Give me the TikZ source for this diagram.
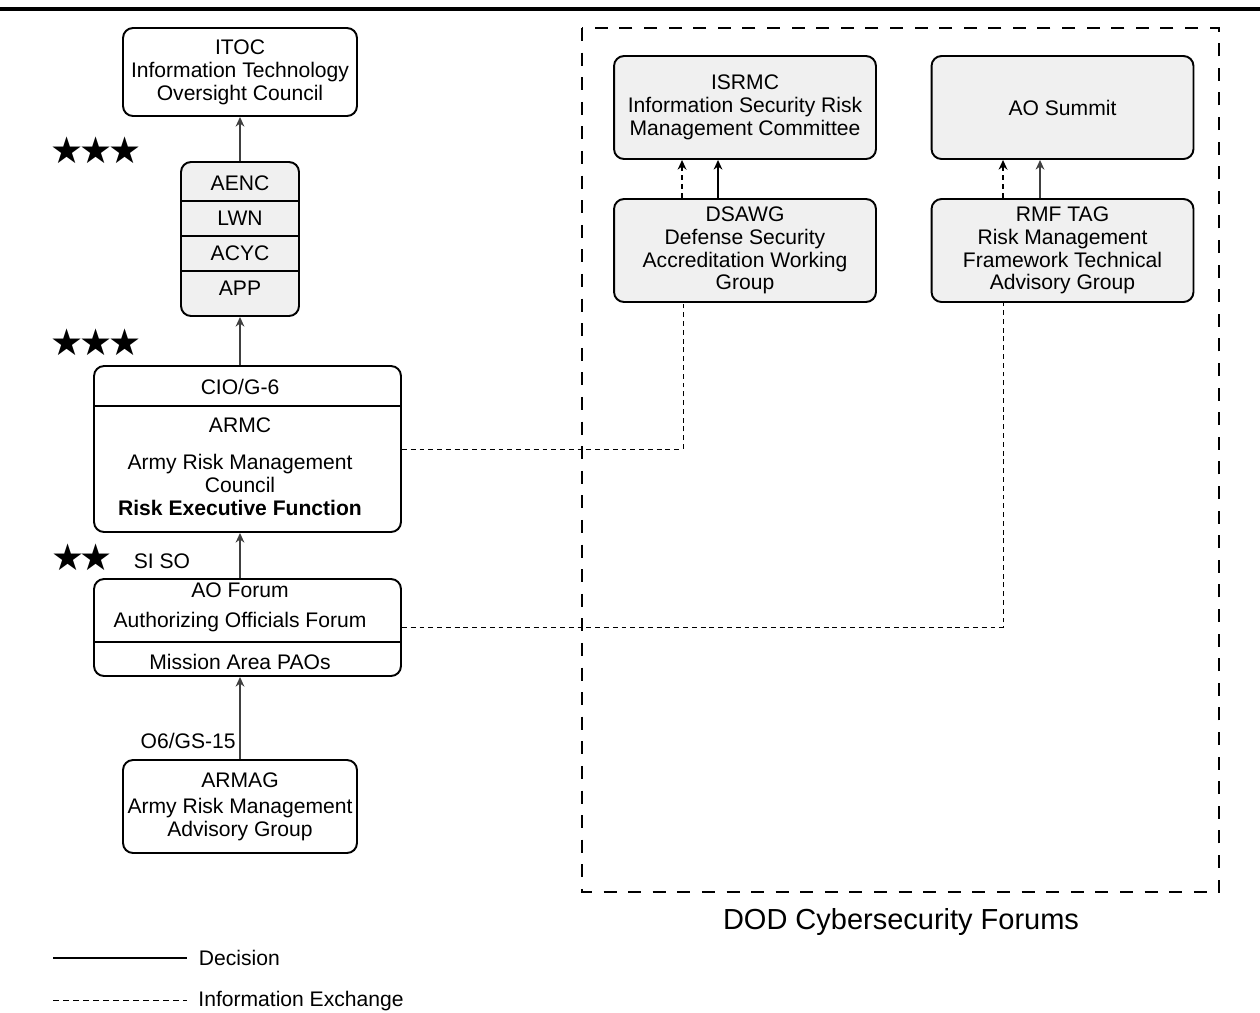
\documentclass[tikz,border=0pt]{standalone}
\usepackage{fontspec}
\setmainfont{Liberation Sans}
\newfontfamily\starfont{DejaVu Sans}
\usepackage{xcolor}
\usetikzlibrary{arrows.meta}
\definecolor{boxgray}{HTML}{F0F0F0}
\definecolor{linkgray}{HTML}{404040}
\newcommand{\boxfont}{\fontsize{12pt}{13pt}\selectfont}
\newcommand{\rankfont}{\starfont\fontsize{21pt}{21pt}\selectfont}
\tikzset{
        forum/.style={draw, line width=1.1pt, rounded corners=0.2cm, fill=white, inner sep=0pt},
        forumgray/.style={forum, fill=boxgray},
        txt/.style={font=\boxfont, align=center, inner sep=0pt},
        rank/.style={font=\rankfont, inner sep=0pt},
        decision/.style={draw=linkgray, line width=0.8pt, -{Stealth[length=5.5pt,width=5pt]}},
        exchange/.style={line width=0.5pt, dash pattern=on 2.8pt off 2.2pt},
        exchangearrow/.style={line width=1.1pt, dash pattern=on 3pt off 2.2pt, -{Stealth[length=5.5pt,width=5pt]}},
}

\begin{document}
\begin{tikzpicture}[x=0.02cm, y=-0.02cm]
        \useasboundingbox (0,0) rectangle (1260,1012);
        \draw[line width=0.09cm] (0,9) -- (1260,9);

        % army boards
        \node[forum, txt, minimum width=4.68cm, minimum height=1.76cm] (itoc) at (240,72)
                {ITOC\\Information Technology\\Oversight Council};
        \node[forumgray, minimum width=2.36cm, minimum height=3.08cm] (stack) at (240,239) {};
        \foreach \y in {201,236,271}
        \draw[line width=1.1pt] (stack.west |- 0,\y) -- (stack.east |- 0,\y);
        \node[txt] (aenc) at (240,183) {AENC};
        \node[txt] (lwn) at (240,218) {LWN};
        \node[txt] (acyc) at (240,253) {ACYC};
        \node[txt] (app) at (240,288) {APP};

        \node[forum, minimum width=6.14cm, minimum height=3.32cm] (cio) at (247.5,449) {};
        \draw[line width=1.1pt] (cio.west |- 0,406) -- (cio.east |- 0,406);
        \node[txt] (ciog6) at (240,387) {CIO/G-6};
        \node[txt] (armc) at (240,425) {ARMC};
        \node[txt] (armcname) at (240,485) {Army Risk Management\\Council\\\textbf{Risk Executive Function}};

        \node[forum, minimum width=6.14cm, minimum height=1.94cm] (aoforum) at (247.5,627.5) {};
        \draw[line width=1.1pt] (aoforum.west |- 0,642) -- (aoforum.east |- 0,642);
        \node[txt] (aoname) at (240,607) {AO Forum\\[4pt]Authorizing Officials Forum};
        \node[txt] (paos) at (240,662) {Mission Area PAOs};

        \node[forum, txt, minimum width=4.68cm, minimum height=1.86cm] (armag) at (240,806.5)
                {ARMAG\\[2pt]Army Risk Management\\Advisory Group};

        \node[rank] (rank1) at (96,150) {★\kern-2.5pt★\kern-2.5pt★};
        \node[rank] (rank2) at (96,342) {★\kern-2.5pt★\kern-2.5pt★};
        \node[rank] (rank3) at (82,557) {★\kern-2.5pt★};
        \node[txt] (siso) at (162,561) {SI SO};
        \node[txt, anchor=east] (o6) at (236,741) {O6/GS-15};

        \draw[decision] (stack.north) -- (itoc.south);
        \draw[decision] (stack.south |- cio.north) -- (stack.south);
        \draw[decision] (stack.south |- aoforum.north) -- (stack.south |- cio.south);
        \draw[decision] (armag.north) -- (armag.north |- aoforum.south);

        % dod forums
        \draw[line width=1.4pt, dash pattern=on 7.4pt off 6.6pt] (582,28) rectangle (1219,892);
        \node[font=\fontsize{16.5pt}{18pt}\selectfont, inner sep=0pt] (dod) at (901,922) {DOD Cybersecurity Forums};

        \node[forumgray, txt, minimum width=5.24cm, minimum height=2.06cm] (isrmc) at (745,107.5)
                {ISRMC\\Information Security Risk\\Management Committee};
        \node[forumgray, txt, minimum width=5.24cm, minimum height=2.06cm] (aosummit) at (1062.5,107.5)
                {AO Summit};
        \node[forumgray, txt, minimum width=5.24cm, minimum height=2.06cm] (dsawg) at (745,250.5)
                {DSAWG\\Defense Security\\Accreditation Working\\Group};
        \node[forumgray, txt, minimum width=5.24cm, minimum height=2.06cm] (rmftag) at (1062.5,250.5)
                {RMF TAG\\Risk Management\\Framework Technical\\Advisory Group};

        \draw[exchangearrow] ([xshift=-1.26cm]dsawg.north) -- ([xshift=-1.26cm]isrmc.south);
        \draw[decision, draw=black] ([xshift=-0.54cm]dsawg.north) -- ([xshift=-0.54cm]isrmc.south);
        \draw[exchangearrow] ([xshift=-1.19cm]rmftag.north) -- ([xshift=-1.19cm]aosummit.south);
        \draw[decision] ([xshift=-0.45cm]rmftag.north) -- ([xshift=-0.45cm]aosummit.south);

        \draw[exchange] (cio.east) -| ([xshift=-1.24cm]dsawg.south);
        \draw[exchange] (aoforum.east) -| ([xshift=-1.19cm]rmftag.south);

        % legend
        \coordinate (dec1) at (53,958);
        \coordinate (dec2) at (187,958);
        \coordinate (inf1) at (53,1000);
        \coordinate (inf2) at (187,1000);
        \draw[line width=1.1pt] (dec1) -- (dec2) node[txt, anchor=west, xshift=0.22cm] (dectxt) {Decision};
        \draw[exchange, dash pattern=on 3.4pt off 2.3pt] (inf1) -- (inf2) node[txt, anchor=west, xshift=0.22cm, yshift=-0.03cm] (inftxt) {Information Exchange};
\end{tikzpicture}
\end{document}
